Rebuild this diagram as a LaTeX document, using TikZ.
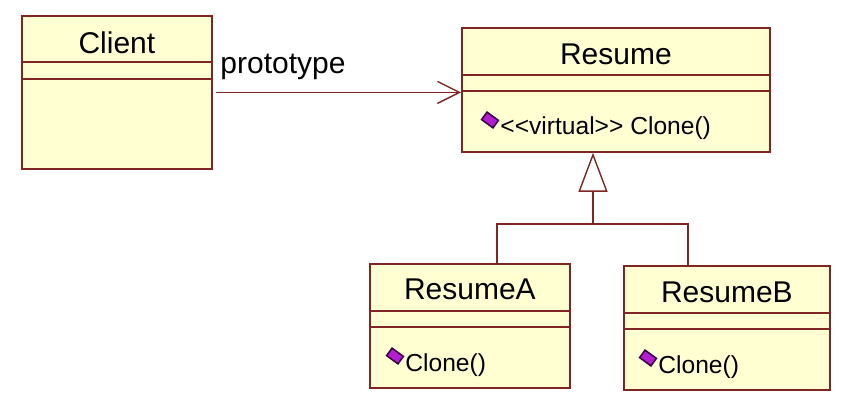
\documentclass[tikz,border=0pt]{standalone}
\usepackage{fontspec}
\setmainfont{Liberation Sans}
\usetikzlibrary{arrows.meta,positioning}
\definecolor{umlfill}{RGB}{255,255,210}
\definecolor{umlline}{RGB}{128,36,36}
\definecolor{opfill}{RGB}{180,30,210}
\definecolor{opline}{RGB}{60,0,70}
\tikzset{%
	classbox/.style = {draw=umlline, fill=umlfill, line width=0.9pt, rectangle, inner sep=0pt, anchor=north west},
	divider/.style  = {draw=umlline, line width=0.9pt},
	title/.style    = {font=\fontsize{15}{18}\selectfont, anchor=base, inner sep=0pt},
	oper/.style     = {font=\fontsize{12.3}{15}\selectfont, anchor=base west, inner sep=0pt},
	opicon/.style   = {draw=opline, fill=opfill, line width=0.8pt, rectangle, minimum width=7pt, minimum height=4.6pt, inner sep=0pt, rotate=-36},
	lbl/.style      = {font=\fontsize{15}{18}\selectfont, anchor=base west, inner sep=0pt},
	assoc/.style    = {draw=umlline, line width=0.7pt, -{Straight Barb[length=11pt,width=11pt,line width=0.7pt]}},
	genline/.style  = {draw=umlline, line width=0.9pt},
	inherit/.style  = {genline, -{Triangle[open, fill=white, length=19.5pt, width=14.5pt, line width=0.7pt]}},
}
\begin{document}
\begin{tikzpicture}[x=0.5pt,y=-0.5pt]
	\useasboundingbox (0,0) rectangle (848,406);
	% classes
	\node [classbox, minimum width=95pt, minimum height=76.5pt] (client) at (21,15) {};
	\node [classbox, minimum width=154pt, minimum height=62pt] (resume) at (461,27) {};
	\node [classbox, minimum width=100pt, minimum height=62pt] (resumeA) at (369,263) {};
	\node [classbox, minimum width=103pt, minimum height=62pt] (resumeB) at (623,265) {};
	
	% compartments
	\draw[divider] ([yshift=-23.5pt]client.north west) -- ([yshift=-23.5pt]client.north east);
	\draw[divider] ([yshift=-32pt]client.north west) -- ([yshift=-32pt]client.north east);
	\foreach \c in {resume,resumeA,resumeB}{
		\draw[divider] ([yshift=-24pt]\c.north west) -- ([yshift=-24pt]\c.north east);
		\draw[divider] ([yshift=-32pt]\c.north west) -- ([yshift=-32pt]\c.north east);
	}
	
	% names
	\node [title] (clientname) at ([yshift=-19.5pt]client.north) {Client};
	\node [title] (resumename) at ([yshift=-19pt]resume.north) {Resume};
	\node [title] (resumeAname) at ([yshift=-18.5pt]resumeA.north) {ResumeA};
	\node [title] (resumeBname) at ([yshift=-19pt]resumeB.north) {ResumeB};
	
	% operations
	\node [opicon] (resumeicon) at ([xshift=14.5pt,yshift=-46.5pt]resume.north west) {};
	\node [oper] (resumeop) at ([xshift=19.5pt,yshift=-54pt]resume.north west) {<{}<virtual>{}> Clone()};
	\node [opicon] (resumeAicon) at ([xshift=13pt,yshift=-46.5pt]resumeA.north west) {};
	\node [oper] (resumeAop) at ([xshift=18pt,yshift=-54.5pt]resumeA.north west) {Clone()};
	\node [opicon] (resumeBicon) at ([xshift=12.5pt,yshift=-46.5pt]resumeB.north west) {};
	\node [oper] (resumeBop) at ([xshift=17.5pt,yshift=-54.5pt]resumeB.north west) {Clone()};
	
	% association
	\node [lbl] (proto) at (220,74) {prototype};
	\draw[assoc] ([xshift=1.5pt]client.east) -- (client.east -| resume.west);
	
	% generalization
	\coordinate (fork) at (593,224);
	\coordinate (forkA) at (497,224);
	\coordinate (forkB) at (688,224);
	\draw[inherit] (fork) -- (fork |- resume.south);
	\draw[genline] (forkA |- resumeA.north) -- (forkA) -- (forkB) -- (forkB |- resumeB.north);
\end{tikzpicture}
\end{document}
